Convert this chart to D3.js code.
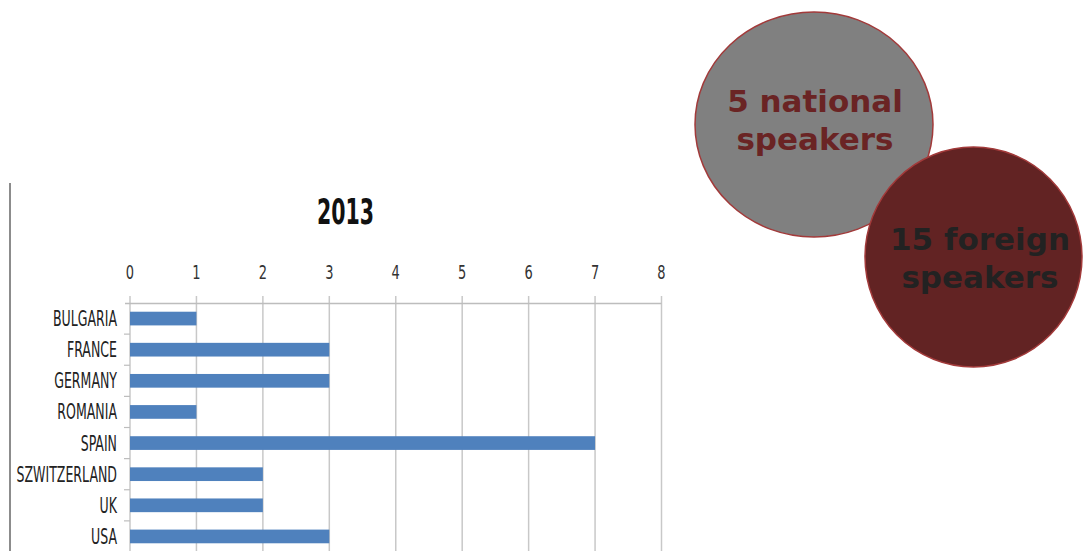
<!DOCTYPE html>
<html><head><meta charset="utf-8">
<script src="https://cdn.jsdelivr.net/npm/d3@7"></script>
<style>body{margin:0;background:#fff}svg{display:block}</style>
</head><body>
<script>
const categories = ["BULGARIA","FRANCE","GERMANY","ROMANIA","SPAIN","SZWITZERLAND","UK","USA"];
const values = [1,3,3,1,7,2,2,3];
const tickValues = [0,1,2,3,4,5,6,7,8];
const chartTitle = "2013";
const bubbles = [
  {lines:["5 national","speakers"], fill:"#808080", text:"#6a2424"},
  {lines:["15 foreign","speakers"], fill:"#622323", text:"#222222"}
];

const W=1083,H=551;
const svg=d3.select("body").append("svg").attr("width",W).attr("height",H);
const narrow='"Liberation Sans Narrow","DejaVu Sans Condensed",sans-serif';

// left frame line
svg.append("line").attr("x1",10).attr("x2",10).attr("y1",183).attr("y2",H)
  .attr("stroke","#8c8c8c").attr("stroke-width",2);

const x=d3.scaleLinear().domain([0,8]).range([130,661.5]);
const y=d3.scaleBand().domain(categories).range([303,552]).paddingInner(0.56).paddingOuter(0.28);

// gridlines
svg.append("g").selectAll("line").data(tickValues).join("line")
  .attr("x1",d=>x(d)).attr("x2",d=>x(d)).attr("y1",296).attr("y2",H)
  .attr("stroke","#c8c8c8").attr("stroke-width",1.5);

// top axis line
svg.append("line").attr("x1",125).attr("x2",x(8)).attr("y1",303.5).attr("y2",303.5)
  .attr("stroke","#bdbdbd").attr("stroke-width",1.5);

// category boundary ticks
const step=y.step();
svg.append("g").selectAll("line").data(d3.range(1,categories.length)).join("line")
  .attr("x1",124).attr("x2",130).attr("y1",d=>303+step*d).attr("y2",d=>303+step*d)
  .attr("stroke","#bdbdbd").attr("stroke-width",1.2);

// tick labels
svg.append("g").selectAll("text").data(tickValues).join("text")
  .attr("text-anchor","middle")
  .attr("font-family",narrow).attr("font-size",17).attr("fill","#333")
  .attr("transform",d=>`translate(${x(d)},279) scale(0.85,1.1)`)
  .text(d=>d);

// bars
svg.append("g").selectAll("rect").data(categories).join("rect")
  .attr("x",x(0)).attr("y",d=>y(d)).attr("height",y.bandwidth())
  .attr("width",(d,i)=>x(values[i])-x(0)).attr("fill","#4f81bd");

// category labels
svg.append("g").selectAll("text").data(categories).join("text")
  .attr("text-anchor","end").attr("font-family",narrow).attr("font-size",17).attr("fill","#222")
  .attr("transform",d=>`translate(117,${y(d)+y.bandwidth()/2+7.5}) scale(0.82,1.2)`)
  .text(d=>d);

// title
svg.append("text").attr("text-anchor","middle").attr("font-family",narrow)
  .attr("font-weight","bold").attr("font-size",30).attr("fill","#111")
  .attr("transform","translate(345.5,224) scale(0.76,1.2)").text(chartTitle);

// bubbles
const bubblePos=[{cx:814,cy:124.5,rx:119,ry:112.5,tx:815,ty:112},{cx:973.5,cy:257,rx:108.5,ry:110,tx:980,ty:250}];
bubbles.forEach((b,i)=>{
  const p=bubblePos[i];
  svg.append("ellipse").attr("cx",p.cx).attr("cy",p.cy).attr("rx",p.rx).attr("ry",p.ry)
    .attr("fill",b.fill).attr("stroke","#a23a3a").attr("stroke-width",1.5);
  const t=svg.append("text").attr("text-anchor","middle").attr("font-family","DejaVu Sans, sans-serif")
    .attr("font-weight","bold").attr("font-size",31).attr("fill",b.text);
  b.lines.forEach((l,j)=>t.append("tspan").attr("x",p.tx).attr("y",p.ty+j*38).text(l));
});
</script>
</body></html>
